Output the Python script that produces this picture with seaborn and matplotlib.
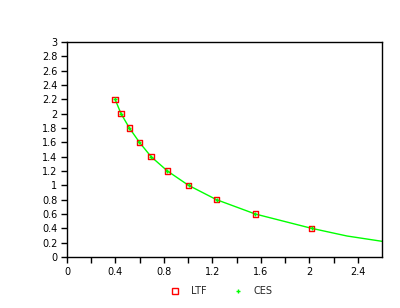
import matplotlib
matplotlib.use("Agg")
import matplotlib.pyplot as plt
from matplotlib.lines import Line2D
import seaborn as sns
import pandas as pd
import numpy as np

# LTF observed points
ltf_x = [0.397, 0.446, 0.515, 0.598, 0.694, 0.829, 1.003, 1.234, 1.554, 2.019]
ltf_y = [2.2, 2.0, 1.8, 1.6, 1.4, 1.2, 1.0, 0.8, 0.6, 0.4]
# CES fitted curve
ces_x = [0.397, 0.446, 0.515, 0.598, 0.694, 0.829, 1.003, 1.234, 1.554, 2.019, 2.311, 2.6]
ces_y = [2.2, 2.0, 1.8, 1.6, 1.4, 1.2, 1.0, 0.8, 0.6, 0.4, 0.293, 0.219]
ces_mx = ltf_x
ces_my = ltf_y

x_ticks = [0, 0.4, 0.8, 1.2, 1.6, 2.0, 2.4]
x_tick_labels = ["0", "0.4", "0.8", "1.2", "1.6", "2", "2.4"]
y_ticks = [0, 0.2, 0.4, 0.6, 0.8, 1.0, 1.2, 1.4, 1.6, 1.8, 2.0, 2.2, 2.4, 2.6, 2.8, 3.0]
y_tick_labels = ["0", "0.2", "0.4", "0.6", "0.8", "1", "1.2", "1.4", "1.6", "1.8",
                 "2", "2.2", "2.4", "2.6", "2.8", "3"]

sns.set_style("white")
plt.rcParams['font.family'] = ['DejaVu Sans']

fig = plt.figure(figsize=(4.0, 3.08), dpi=100)
ax = fig.add_axes([67/400, 51/308, 315/400, 215/308])

GREEN = "#00ff00"
RED = "#ff0000"

ces_df = pd.DataFrame({"x": ces_x, "y": ces_y})
ltf_df = pd.DataFrame({"x": ltf_x, "y": ltf_y})
cesm_df = pd.DataFrame({"x": ces_mx, "y": ces_my})

sns.lineplot(data=ces_df, x="x", y="y", ax=ax, color=GREEN, lw=1.0, sort=False)
sns.scatterplot(data=ltf_df, x="x", y="y", ax=ax, marker="s", s=14,
                facecolor="none", edgecolor=RED, linewidth=1.0, zorder=3)
sns.scatterplot(data=cesm_df, x="x", y="y", ax=ax, marker="+", s=9,
                color=GREEN, linewidth=1.0, zorder=4)

ax.set_xlim(0, 2.6)
ax.set_ylim(0, 3)
ax.set_xticks(x_ticks)
ax.set_xticklabels(x_tick_labels)
ax.set_xticks(np.arange(0.2, 2.6, 0.4), minor=True)
ax.set_yticks(y_ticks)
ax.set_yticklabels(y_tick_labels)
ax.set_xlabel("")
ax.set_ylabel("")
ax.tick_params(axis="both", which="both", direction="out", length=4, width=1,
               color="black", labelsize=7, labelcolor="black", bottom=True, left=True)
ax.tick_params(axis="x", pad=3)
ax.tick_params(axis="y", pad=3)
for s in ax.spines.values():
    s.set_color("black")
    s.set_linewidth(1.0)

handles = [Line2D([], [], marker="s", ls="none", mfc="none", mec=RED, ms=4, mew=1.0),
           Line2D([], [], marker="+", ls="none", color=GREEN, ms=3.5, mew=1.0)]
fig.legend(handles, ["LTF", "CES"], loc="center", bbox_to_anchor=(0.552, 0.055),
           ncol=2, frameon=False, fontsize=7, handlelength=1.2, columnspacing=2.6,
           handletextpad=1.0)

fig.savefig("out.png", dpi=100)
